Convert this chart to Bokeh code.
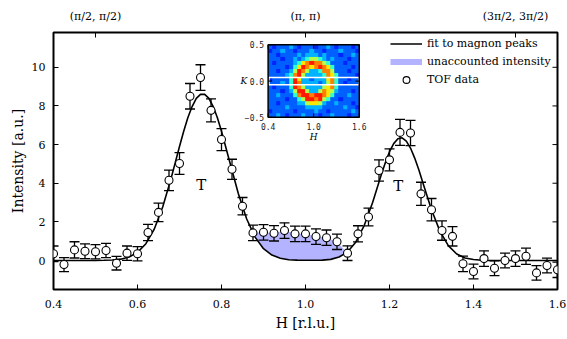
import math
import numpy as np
from bokeh.plotting import figure
from bokeh.models import (LinearAxis, FixedTicker, Range1d, Legend, LegendItem,
                          LinearColorMapper, PrintfTickFormatter)
from bokeh.embed import file_html
from bokeh.resources import INLINE
from bokeh.core.properties import value

# ---------------- data ----------------
tof_h = [0.400, 0.425, 0.450, 0.475, 0.500, 0.525, 0.550, 0.575, 0.600, 0.625,
         0.650, 0.675, 0.700, 0.725, 0.750, 0.775, 0.800, 0.825, 0.850, 0.875,
         0.900, 0.925, 0.950, 0.975, 1.000, 1.025, 1.050, 1.075, 1.100, 1.125,
         1.150, 1.175, 1.200, 1.225, 1.250, 1.275, 1.300, 1.325, 1.350, 1.375,
         1.400, 1.425, 1.450, 1.475, 1.500, 1.525, 1.550, 1.575, 1.600]
tof_i = [0.35, -0.21, 0.55, 0.48, 0.45, 0.52, -0.14, 0.38, 0.35, 1.45,
         2.49, 4.15, 5.02, 8.50, 9.47, 7.77, 6.26, 4.72, 2.81, 1.43,
         1.46, 1.41, 1.55, 1.38, 1.38, 1.24, 1.18, 0.97, 0.38, 1.38,
         2.25, 4.66, 5.21, 6.63, 6.60, 3.45, 2.63, 1.55, 1.25, -0.17,
         -0.57, 0.10, -0.40, 0.00, 0.10, 0.22, -0.64, -0.26, -0.48]
tof_err = [0.40, 0.36, 0.42, 0.38, 0.37, 0.37, 0.35, 0.37, 0.37, 0.42,
           0.48, 0.53, 0.56, 0.66, 0.66, 0.60, 0.57, 0.52, 0.45, 0.40,
           0.40, 0.40, 0.40, 0.40, 0.40, 0.40, 0.40, 0.40, 0.38, 0.42,
           0.46, 0.55, 0.57, 0.67, 0.65, 0.60, 0.58, 0.50, 0.50, 0.40,
           0.38, 0.40, 0.38, 0.38, 0.40, 0.42, 0.38, 0.38, 0.40]

fit_h = [0.40, 0.42, 0.44, 0.46, 0.48, 0.50, 0.52, 0.54, 0.56, 0.58, 0.60, 0.62,
         0.64, 0.66, 0.68, 0.70, 0.71, 0.72, 0.73, 0.74, 0.75, 0.76, 0.77, 0.78,
         0.79, 0.80, 0.82, 0.84, 0.86, 0.88, 0.90, 0.92, 0.94, 0.96, 0.98, 1.00,
         1.02, 1.04, 1.06, 1.08, 1.10, 1.12, 1.14, 1.16, 1.18, 1.19, 1.20, 1.21,
         1.22, 1.23, 1.24, 1.25, 1.26, 1.27, 1.28, 1.30, 1.32, 1.34, 1.36, 1.38,
         1.40, 1.42, 1.44, 1.46, 1.48, 1.50, 1.52, 1.54, 1.56, 1.58, 1.60]
fit_i = [0.00, 0.00, 0.00, 0.00, 0.00, 0.00, 0.01, 0.03, 0.07, 0.18, 0.42, 0.87,
         1.63, 2.77, 4.25, 5.90, 6.69, 7.40, 7.97, 8.39, 8.60, 8.60, 8.39, 7.98,
         7.40, 6.69, 5.07, 3.47, 2.15, 1.21, 0.61, 0.28, 0.12, 0.04, 0.02, 0.01,
         0.01, 0.02, 0.06, 0.18, 0.44, 0.96, 1.82, 3.02, 4.41, 5.06, 5.63, 6.05,
         6.30, 6.35, 6.18, 5.82, 5.30, 4.68, 3.99, 2.63, 1.52, 0.77, 0.34, 0.13,
         0.05, 0.01, 0.00, 0.00, 0.00, 0.00, 0.00, 0.00, 0.00, 0.00, 0.00]

# region of unaccounted intensity: data points between the peaks vs. fit
gap_range = (0.87, 1.11)
gap_fit = [1.41, 0.61, 0.23, 0.07, 0.02, 0.01, 0.01, 0.04, 0.14, 0.44]

t_label_h = [0.752, 1.221]
t_label_i = [3.9, 3.87]
t_label_text = ["T", "T"]

x_ticks = [0.4, 0.6, 0.8, 1.0, 1.2, 1.4, 1.6]
y_ticks = [0, 2, 4, 6, 8, 10]
top_ticks = [0.5, 1.0, 1.5]
top_labels = ["(π/2, π/2)", "(π, π)", "(3π/2, 3π/2)"]

# inset: TOF intensity map in the (H, K) plane, coarse cells, top row = K 0.5
inset_rows = [
    "2122232122212232122212",
    "1223221222322122232221",
    "2212222323332322212232",
    "2221223234554323222122",
    "2122223467877542221222",
    "2222124687678764222212",
    "2212235875334775222122",
    "2222347853333476422221",
    "1222248633233367422122",
    "2223248733332357421222",
    "2122248753333567422222",
    "2221235885335765322212",
    "2232224788788764222322",
    "2222122458878542212222",
    "2212222335665322322212",
    "2222322223333222223221",
    "1222221222232212222232",
    "2232122232221223222122",
]
inset_h_range = (0.4, 1.6)
inset_k_range = (-0.5, 0.5)
inset_h_ticks = [0.4, 1.0, 1.6]
inset_h_labels = ["0.4", "1.0", "1.6"]
inset_k_ticks = [0.5, 0.0, -0.5]
inset_k_labels = ["0.5", "0.0", "−0.5"]
cut_k = (-0.05, 0.05)

# ---------------- figure ----------------
XR = (0.4, 1.6)
YR = (-1.5, 11.8)
W, H = 567, 339
BL, BR, BT, BB = 53, 10, 32, 50
SERIF = "DejaVu Serif"

p = figure(width=W, height=H, x_range=Range1d(*XR), y_range=Range1d(*YR),
           output_backend="svg", toolbar_location=None,
           min_border_left=BL, min_border_right=BR,
           min_border_top=BT, min_border_bottom=BB,
           x_axis_label="H [r.l.u.]", y_axis_label="Intensity [a.u.]")
p.grid.visible = False
p.outline_line_color = "black"
p.outline_line_width = 2
p.outline_line_alpha = 1.0
p.background_fill_color = "white"
p.border_fill_color = "white"

p.xaxis.ticker = FixedTicker(ticks=x_ticks)
p.xaxis.formatter = PrintfTickFormatter(format="%.1f")
p.yaxis.ticker = FixedTicker(ticks=y_ticks)

top_ax = LinearAxis(ticker=FixedTicker(ticks=top_ticks),
                    major_label_overrides={t: l for t, l in zip(top_ticks, top_labels)})
p.add_layout(top_ax, "above")

for ax in list(p.xaxis) + list(p.yaxis):
    ax.axis_line_color = None
    ax.major_tick_in = 5
    ax.major_tick_out = 0
    ax.major_tick_line_width = 1
    ax.major_tick_line_color = "black"
    ax.minor_tick_line_color = None
    ax.major_label_text_font = SERIF
    ax.major_label_text_font_size = "11px"
    ax.major_label_text_color = "black"
    ax.axis_label_text_font = SERIF
    ax.axis_label_text_font_size = "14px"
    ax.axis_label_text_font_style = "normal"
    ax.axis_label_text_color = "black"

p.below[0].major_label_standoff = 10
p.below[0].axis_label_standoff = 4
p.left[0].major_label_standoff = 8
p.left[0].axis_label_standoff = 3
top_ax.major_label_standoff = 10

FRAME_W = W - BL - BR
FRAME_H = H - BT - BB
px_x = (XR[1] - XR[0]) / FRAME_W
px_y = (YR[1] - YR[0]) / FRAME_H

# right-hand frame ticks (no labels), pointing inward like the others
p.segment(x0=[XR[1]] * len(y_ticks), y0=y_ticks,
          x1=[XR[1] - 5 * px_x] * len(y_ticks), y1=y_ticks,
          line_color="black", line_width=1)

# ---------------- main glyphs ----------------
gap_h = [h for h in tof_h if gap_range[0] <= h <= gap_range[1]]
gap_top = [v for h, v in zip(tof_h, tof_i) if gap_range[0] <= h <= gap_range[1]]
gap_color = "#b3b3ff"
p.varea(x=gap_h, y1=gap_fit, y2=gap_top, fill_color=gap_color, fill_alpha=1.0)

fit_r = p.line(fit_h, fit_i, line_color="black", line_width=1.6)

upper = [v + e for v, e in zip(tof_i, tof_err)]
lower = [v - e for v, e in zip(tof_i, tof_err)]
p.segment(x0=tof_h, y0=lower, x1=tof_h, y1=upper, line_color="black", line_width=1.3)
p.scatter(x=tof_h + tof_h, y=upper + lower, marker="dash", size=10,
          line_color="black", line_width=1.3)
pts_r = p.scatter(x=tof_h, y=tof_i, marker="circle", size=8,
                  fill_color="white", line_color="black", line_width=1.1)

p.text(x=t_label_h, y=t_label_i, text=t_label_text, text_font=value(SERIF),
       text_font_size="15px", text_align="center", text_baseline="middle",
       text_color="black")

# legend swatch for the fill (drawn as a thick bar like the reference)
gap_leg = p.line(x=[float("nan")], y=[float("nan")], line_color=gap_color, line_width=6)

# ---------------- inset ----------------
IX0, IX1 = 0.911, 1.128     # inset box, in main H units
IY0, IY1 = 7.41, 11.16      # inset box, in main intensity units


def ix(h):
    return IX0 + (h - inset_h_range[0]) / (inset_h_range[1] - inset_h_range[0]) * (IX1 - IX0)


def iy(k):
    return IY0 + (k - inset_k_range[0]) / (inset_k_range[1] - inset_k_range[0]) * (IY1 - IY0)


def jet(v):
    r = min(max(min(4 * v - 1.5, -4 * v + 4.5), 0.0), 1.0)
    g = min(max(min(4 * v - 0.5, -4 * v + 3.5), 0.0), 1.0)
    b = min(max(min(4 * v + 0.5, -4 * v + 2.5), 0.0), 1.0)
    return "#%02x%02x%02x" % (int(r * 255), int(g * 255), int(b * 255))


levels = [0.10, 0.16, 0.22, 0.30, 0.42, 0.55, 0.65, 0.75, 0.85, 0.93]
pal = [jet(v) for v in levels]
arr = np.array([[int(c) for c in row] for row in inset_rows], dtype=float)[::-1]
cmap = LinearColorMapper(palette=pal, low=-0.5, high=9.5)
p.image(image=[arr], x=IX0, y=IY0, dw=IX1 - IX0, dh=IY1 - IY0, color_mapper=cmap)

# white cut box
p.quad(left=ix(0.41), right=ix(1.6), bottom=iy(cut_k[0]), top=iy(cut_k[1]),
       fill_color=None, line_color="white", line_width=1.5)
# inset frame
p.quad(left=IX0, right=IX1, bottom=IY0, top=IY1, fill_color=None,
       line_color="black", line_width=1.5)
# inset ticks (4 px inward)
tl = 4
tx0, ty0, tx1, ty1 = [], [], [], []
for h in inset_h_ticks:
    tx0 += [ix(h), ix(h)]
    tx1 += [ix(h), ix(h)]
    ty0 += [IY0, IY1]
    ty1 += [IY0 + tl * px_y, IY1 - tl * px_y]
for k in inset_k_ticks:
    tx0 += [IX0, IX1]
    tx1 += [IX0 + tl * px_x, IX1 - tl * px_x]
    ty0 += [iy(k), iy(k)]
    ty1 += [iy(k), iy(k)]
p.segment(x0=tx0, y0=ty0, x1=tx1, y1=ty1, line_color="black", line_width=1)

MONO = "DejaVu Sans Mono"
p.text(x=[IX0] * 3, y=[iy(k) for k in inset_k_ticks], text=inset_k_labels,
       text_font=value(MONO), text_font_size="8px", text_align="right",
       text_baseline="middle", x_offset=-4, text_color="#222222")
p.text(x=[ix(h) for h in inset_h_ticks], y=[IY0] * 3, text=inset_h_labels,
       text_font=value(MONO), text_font_size="8px", text_align="center",
       text_baseline="top", y_offset=6, text_color="#222222")
p.text(x=[IX0], y=[iy(0.0)], text=["K"], text_font=value(SERIF),
       text_font_size="9px", text_font_style="italic", text_align="right",
       text_baseline="middle", x_offset=-21, text_color="black")
p.text(x=[ix(1.0)], y=[IY0], text=["H"], text_font=value(SERIF),
       text_font_size="9px", text_font_style="italic", text_align="center",
       text_baseline="top", y_offset=15, text_color="black")

# ---------------- legend ----------------
legend = Legend(items=[
    LegendItem(label="fit to magnon peaks", renderers=[fit_r]),
    LegendItem(label="unaccounted intensity", renderers=[gap_leg]),
    LegendItem(label="TOF data", renderers=[pts_r]),
], location="top_right")
legend.margin = 3
legend.padding = 3
legend.spacing = 1
legend.glyph_width = 32
legend.glyph_height = 17
legend.label_height = 17
legend.label_width = 127
legend.label_standoff = 5
legend.label_text_font = SERIF
legend.label_text_font_size = "11px"
legend.label_text_color = "black"
legend.border_line_color = None
legend.background_fill_alpha = 0.0
p.add_layout(legend)

open("out.html", "w").write(file_html(p, INLINE))
